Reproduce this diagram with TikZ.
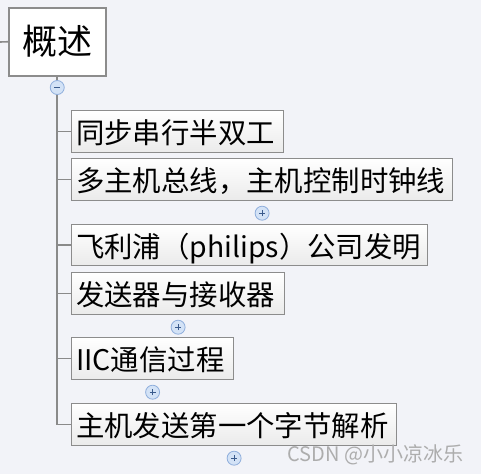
\documentclass[tikz,border=0pt]{standalone}
\usepackage{fontspec}
\newfontfamily\cjk{Noto Sans CJK SC}
\definecolor{bgc}{HTML}{F2F3F8}
\definecolor{linec}{HTML}{8A8A8A}
\definecolor{boxc}{HTML}{8C8C8C}
\definecolor{knobfill}{HTML}{D3E2F6}
\definecolor{knobline}{HTML}{8FAEDC}
\definecolor{knobsign}{HTML}{3A5A8C}
\tikzset{
  topic/.style={draw=boxc, line width=1.2pt, anchor=north west, inner sep=0pt,
    top color=white, bottom color=black!8, font=\cjk\fontsize{28.4}{28.4}\selectfont,
    text depth=0pt, align=left},
  roottopic/.style={draw=boxc, line width=1.5pt, fill=white, anchor=north west, inner sep=0pt,
    font=\cjk\fontsize{35}{35}\selectfont},
  conn/.style={draw=linec, line width=1.6pt},
  knob/.style={circle, draw=knobline, fill=knobfill, line width=0.8pt, minimum size=14pt, inner sep=0pt},
}
\begin{document}
\begin{tikzpicture}[x=1pt,y=-1pt]
\fill[bgc] (0,0) rectangle (481,474);
\useasboundingbox (0,0) rectangle (481,474);

\node[roottopic, minimum width=97pt, minimum height=68pt] (root) at (8,7) {概述};
\coordinate (rootin) at (0,42);
\draw[conn] (rootin) -- (root.west);

\node[topic, minimum width=212pt, minimum height=42pt, text width=203pt] (b1) at (71,110) {同步串行半双工};
\node[topic, minimum width=381pt, minimum height=42pt, text width=372pt] (b2) at (71,158) {多主机总线，主机控制时钟线};
\node[topic, minimum width=356pt, minimum height=41pt, text width=347pt] (b3) at (71,224) {飞利浦（philips）公司发明};
\node[topic, minimum width=213pt, minimum height=42pt, text width=204pt] (b4) at (71,272) {发送器与接收器};
\node[topic, minimum width=162pt, minimum height=42pt, text width=153pt] (b5) at (71,337) {IIC通信过程};
\node[topic, minimum width=325pt, minimum height=42pt, text width=316pt] (b6) at (71,403) {主机发送第一个字节解析};

\draw[conn] (root.south) |- (b6.west);
\foreach \b in {b1,b2,b3,b4,b5}{
  \draw[conn] (\b.west) -- (\b.west -| root.south);
}

\node[knob] (k0) at ([yshift=-11pt]root.south) {};
\draw[knobsign, line width=0.9pt] ([xshift=-3pt]k0.center) -- ([xshift=3pt]k0.center);

\foreach \b in {b2,b4,b5,b6}{
  \node[knob] (k\b) at ([yshift=-12pt]\b.south) {};
  \draw[knobsign, line width=0.9pt] ([xshift=-3pt]k\b.center) -- ([xshift=3pt]k\b.center);
  \draw[knobsign, line width=0.9pt] ([yshift=-3pt]k\b.center) -- ([yshift=3pt]k\b.center);
}

\node[text=black!32, font=\cjk\fontsize{20}{20}\selectfont, anchor=west] (wm) at (284,455) {CSDN @小小凉冰乐};
\end{tikzpicture}
\end{document}
